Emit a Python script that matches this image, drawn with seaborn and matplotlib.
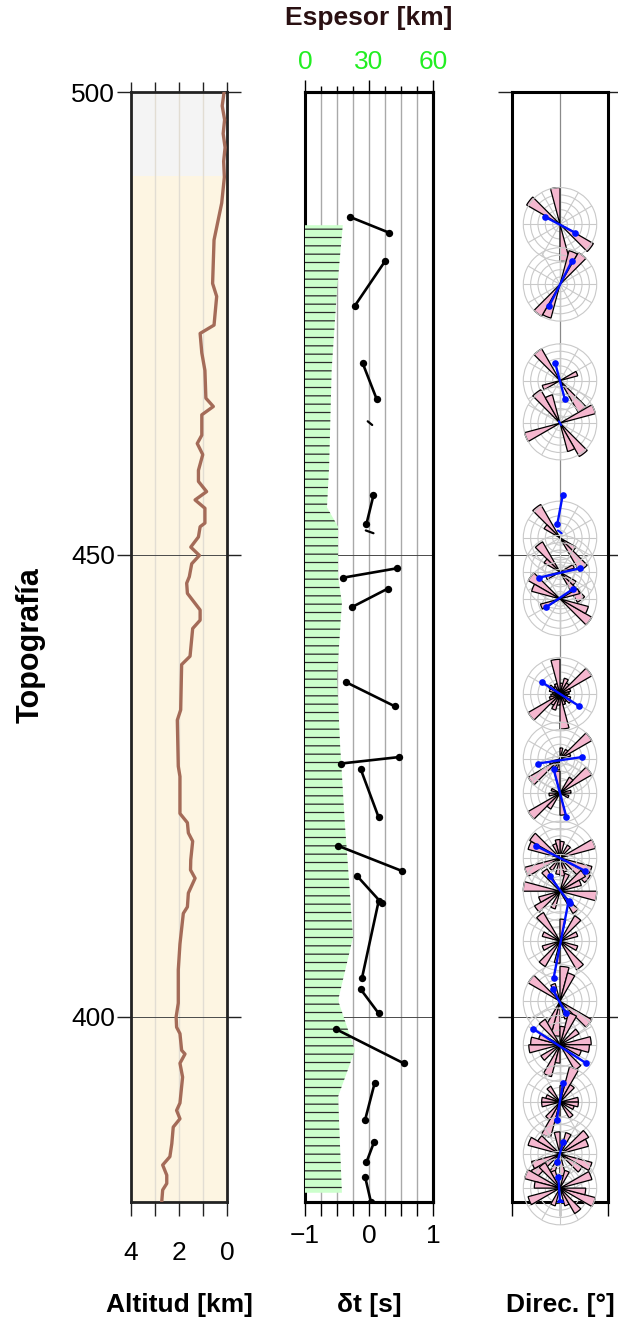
import matplotlib
matplotlib.use("Agg")
import numpy as np
import pandas as pd
import matplotlib.pyplot as plt
from matplotlib.ticker import MultipleLocator
import seaborn as sns

sns.set_theme(style="white")
plt.rcParams["font.family"] = ["Liberation Sans", "DejaVu Sans"]
plt.rcParams["hatch.linewidth"] = 0.9
plt.rcParams["hatch.color"] = "#2a2a2a"

# ---------------- data ----------------
Y_RANGE = (380, 500)
COAST_Y = 490.9

# topography along the profile (km)
TOPO_Y = [500.0, 498.5, 497.0, 495.5, 494.0, 492.5, 490.8, 488.0, 484.0, 479.3, 477.9, 474.8,
          473.9, 471.8, 469.9, 466.9, 466.0, 465.1, 462.9, 462.0, 460.8, 459.1, 457.9, 456.8,
          455.9, 455.0, 453.4, 453.0, 451.9, 450.8, 449.9, 449.0, 447.6, 446.9, 445.8, 444.0,
          442.9, 442.0, 439.0, 438.1, 433.2, 432.1, 427.1, 426.0, 422.0, 421.0, 419.9, 419.0,
          417.0, 415.9, 415.0, 413.4, 411.9, 411.2, 407.9, 405.1, 401.5, 400.0, 398.9, 398.2,
          396.4, 396.0, 395.0, 393.5, 390.7, 389.9, 389.0, 388.1, 386.3, 384.9, 384.0, 382.9,
          382.0, 381.3, 380.0]
TOPO_ALT = [0.12, 0.20, 0.10, 0.16, 0.08, 0.14, 0.11, 0.22, 0.54, 0.60, 0.43, 0.54,
            1.12, 1.05, 0.92, 0.88, 0.57, 1.05, 1.05, 1.24, 1.01, 1.19, 1.19, 0.85,
            1.33, 0.92, 0.92, 1.12, 1.19, 1.51, 1.15, 1.47, 1.57, 1.68, 1.65, 1.12,
            1.12, 1.43, 1.54, 1.89, 1.93, 2.07, 2.03, 1.96, 1.96, 1.65, 1.61, 1.43,
            1.51, 1.52, 1.33, 1.61, 1.65, 1.82, 1.96, 2.03, 2.03, 2.12, 2.10, 1.96,
            1.89, 1.75, 1.96, 1.85, 1.96, 2.10, 1.96, 2.24, 2.30, 2.38, 2.68, 2.51,
            2.51, 2.68, 2.72]

# layer thickness (km)
THICK_Y = [485.6, 478.6, 470.0, 459.5, 455.1, 453.0, 447.6, 444.8, 436.8, 429.6, 420.5,
           417.7, 408.6, 401.8, 396.4, 391.4, 381.0]
THICK_KM = [17.7, 15.0, 12.5, 11.3, 10.3, 15.5, 15.5, 17.3, 15.0, 16.4, 18.8,
            19.7, 22.5, 15.5, 23.4, 15.5, 17.3]

# splitting pairs: position, delay time and direction of both ends
SEG_Y1 = [486.5, 481.7, 470.7, 456.4, 448.5, 446.3, 436.2, 428.1, 426.8, 418.5, 415.2,
          412.5, 403.0, 398.7, 392.9, 386.5, 382.7]
SEG_Y2 = [484.8, 476.9, 466.8, 453.3, 447.5, 444.3, 433.6, 427.4, 421.6, 415.8, 412.3,
          404.2, 400.4, 395.0, 388.9, 384.3, 380.0]
SEG_DT1 = [-0.30, 0.25, -0.10, 0.07, 0.43, 0.29, -0.36, 0.47, -0.13, -0.48, -0.18,
           0.15, -0.13, -0.52, 0.09, 0.08, -0.06]
SEG_DT2 = [0.31, -0.22, 0.12, -0.04, -0.40, -0.27, 0.40, -0.44, 0.15, 0.51, 0.20,
           -0.11, 0.15, 0.54, -0.06, -0.04, 0.03]
SEG_DIR1 = [-28, 22, -9, 5, 37, 25, -34, 41, -12, -45, -19, 16, -14, -50, 6, 6, -3]
SEG_DIR2 = [28, -20, 9, -5, -39, -26, 36, -42, 12, 47, 18, -12, 11, 49, -6, -5, 0]

# near-null pairs
NULL_Y1 = [464.4, 452.6]
NULL_Y2 = [464.0, 452.3]
NULL_DT1 = [-0.02, -0.05]
NULL_DT2 = [0.05, 0.07]
NULL_DIR1 = [-2, -4]
NULL_DIR2 = [2, 3]

# rose diagrams: centre position, bin azimuths (deg, 15 deg bins) and relative lengths
ROSE_Y = [485.7, 479.2, 468.8, 464.2, 451.8, 448.1, 445.2, 434.9, 427.9, 424.2, 417.2,
          413.6, 408.2, 401.7, 397.0, 390.8, 385.2, 381.5]
ROSE_DIRS = [
    [127.5, 172.5],
    [22.5, 37.5],
    [142.5, 67.5],
    [142.5, 67.5, 157.5],
    [142.5, 127.5],
    [142.5, 127.5, 67.5],
    [127.5, 112.5, 67.5],
    [7.5, 22.5, 37.5, 52.5, 67.5, 82.5, 97.5, 112.5, 127.5, 142.5, 157.5, 172.5],
    [52.5, 7.5, 37.5, 67.5],
    [52.5, 37.5, 172.5, 82.5, 112.5],
    [67.5, 112.5, 127.5, 7.5, 172.5, 37.5, 157.5],
    [97.5, 52.5, 142.5, 22.5, 67.5],
    [37.5, 142.5, 112.5, 7.5, 67.5],
    [127.5, 7.5, 22.5, 157.5],
    [82.5, 97.5, 112.5, 142.5, 22.5, 7.5, 52.5],
    [22.5, 82.5, 37.5, 7.5, 142.5, 112.5, 97.5],
    [52.5, 112.5, 127.5, 22.5, 172.5, 67.5],
    [67.5, 112.5, 97.5, 22.5, 157.5, 142.5],
]
ROSE_LENS = [
    [1.05, 1.0],
    [0.95, 1.0],
    [1.0, 0.5],
    [1.05, 1.0, 0.8],
    [1.05, 0.5],
    [0.95, 0.5, 0.4],
    [1.0, 0.8, 0.55],
    [0.3, 0.45, 0.35, 1.0, 0.3, 0.25, 0.2, 0.3, 0.35, 0.25, 0.3, 0.95],
    [1.0, 0.3, 0.3, 0.3],
    [1.0, 0.5, 0.6, 0.3, 0.25],
    [1.0, 0.9, 0.95, 0.45, 0.5, 0.4, 0.4],
    [1.0, 0.8, 0.7, 0.5, 0.6],
    [0.8, 0.9, 0.5, 0.6, 0.5],
    [1.0, 0.95, 0.8, 0.5],
    [0.85, 0.8, 0.6, 0.8, 0.9, 0.5, 0.6],
    [1.0, 0.5, 0.55, 0.45, 0.5, 0.4, 0.5],
    [0.9, 0.9, 0.7, 0.6, 0.6, 0.8],
    [0.9, 1.0, 0.7, 0.5, 0.5, 0.8],
]
ROSE_BIN = 15

# ---------------- styling ----------------
FRAME = "#222222"
GRID_DARK = "#4a4a4a"
LABEL_KW = dict(fontsize=19, fontweight="bold", color="black")
TICK_SIZE = 19

W_PX, H_PX = 618, 1323
fig = plt.figure(figsize=(W_PX / 100, H_PX / 100), dpi=100)


def box(x0, x1, y0, y1):
    return [x0 / W_PX, 1 - y1 / H_PX, (x1 - x0) / W_PX, (y1 - y0) / H_PX]


ax_topo = fig.add_axes(box(131, 227, 92, 1202))
ax_dt = fig.add_axes(box(305, 433, 92, 1202))
ax_dir = fig.add_axes(box(512, 608, 92, 1202))
LABEL_Y = (1202 - 1305) / 1110


def frame(ax, lw=2.0, color=FRAME, sides=("left", "right", "top", "bottom")):
    for s, sp in ax.spines.items():
        sp.set_visible(s in sides)
        sp.set_linewidth(lw)
        sp.set_color(color)


def y_ticks(ax, labels):
    ax.set_yticks([400, 450, 500])
    ax.tick_params(axis="y", which="major", left=True, right=True, direction="out",
                   length=10, width=1, color=FRAME, labelsize=TICK_SIZE, pad=1.5,
                   labelleft=labels, labelcolor="black")


def bottom_label(ax, text):
    ax.set_xlabel(text, **LABEL_KW)
    ax.xaxis.set_label_coords(0.5, LABEL_Y)
    ax.xaxis.label.set_va("center")
    ax.set_ylabel("")


# ---- topography panel ----
ax_topo.set_xlim(4, 0)
ax_topo.set_ylim(*Y_RANGE)
ax_topo.axhspan(COAST_Y, 500, color="#f4f4f4", lw=0, zorder=0)
ax_topo.axhspan(380, COAST_Y, color="#fdf5e2", lw=0, zorder=0)
for gx in (1, 2, 3):
    ax_topo.axvline(gx, color="#e2ddd3", lw=1, zorder=0.5)
for gy in (450, 400):
    ax_topo.axhline(gy, color=GRID_DARK, lw=0.7, zorder=0.6)
sns.lineplot(x=TOPO_ALT, y=TOPO_Y, sort=False, estimator=None, color="#a46b58",
             lw=2.4, ax=ax_topo, zorder=3)
ax_topo.set_xticks([4, 2, 0])
ax_topo.set_xticklabels(["4", "2", "0"])
ax_topo.xaxis.set_minor_locator(MultipleLocator(1))
ax_topo.tick_params(axis="x", which="both", bottom=True, top=False, direction="out",
                    length=10, width=1, color=FRAME, labelsize=TICK_SIZE, pad=18,
                    labelcolor="black")
top_ax = ax_topo.secondary_xaxis("top")
top_ax.set_xticks([4, 3, 2, 1, 0])
top_ax.tick_params(axis="x", direction="out", length=7, width=1, color=FRAME,
                   labeltop=False)
top_ax.spines["top"].set_visible(False)
y_ticks(ax_topo, True)
frame(ax_topo)
bottom_label(ax_topo, "Altitud [km]")
ax_topo.set_ylabel("Topografía", fontsize=22, fontweight="bold", color="black")
ax_topo.yaxis.set_label_coords(-1.05, 0.502)
ax_topo.yaxis.label.set_va("center")

# ---- delay time panel with layer thickness behind ----
ax_km = ax_dt.twiny()
ax_km.set_zorder(ax_dt.get_zorder() - 1)
ax_km.patch.set_visible(True)
ax_km.patch.set_facecolor("white")
ax_dt.patch.set_visible(False)
ax_dt.set_xlim(-1, 1)
ax_dt.set_ylim(*Y_RANGE)
ax_km.set_xlim(0, 60)
ax_km.set_xticks([0, 30, 60])
ax_km.xaxis.set_minor_locator(MultipleLocator(7.5))
ax_km.set_axisbelow(True)
ax_km.grid(which="both", axis="x", color="#a9a9a9", lw=1)
for gy in (450, 400):
    ax_km.axhline(gy, color=GRID_DARK, lw=0.7, zorder=1)
ax_km.fill_betweenx(THICK_Y, 0, THICK_KM, facecolor="#ccffcc", edgecolor="#2a2a2a",
                    linewidth=0, hatch="--", zorder=3)
ax_km.tick_params(axis="x", which="major", top=True, bottom=False, direction="out",
                  length=9, width=1, color="black", labelsize=19, labelcolor="#22ee22",
                  pad=4)
ax_km.tick_params(axis="x", which="minor", top=True, bottom=False, direction="out",
                  length=4.5, width=1, color="black")
frame(ax_km, lw=2.2, color="black")
ax_km.set_xlabel("Espesor [km]", fontsize=19, fontweight="bold", color="#2a1012")
ax_km.xaxis.set_label_coords(0.5, (1202 - 18) / 1110)
ax_km.xaxis.label.set_va("center")

pairs = pd.DataFrame({
    "pair": list(range(len(SEG_Y1))) * 2,
    "y": SEG_Y1 + SEG_Y2,
    "dt": SEG_DT1 + SEG_DT2,
    "dir": SEG_DIR1 + SEG_DIR2,
})
nulls = pd.DataFrame({
    "pair": list(range(len(NULL_Y1))) * 2,
    "y": NULL_Y1 + NULL_Y2,
    "dt": NULL_DT1 + NULL_DT2,
    "dir": NULL_DIR1 + NULL_DIR2,
})
sns.lineplot(data=pairs, x="dt", y="y", units="pair", estimator=None, sort=False,
             color="black", lw=1.9, marker="o", markersize=5.3, markeredgewidth=0,
             legend=False, ax=ax_dt, zorder=5)
sns.lineplot(data=nulls, x="dt", y="y", units="pair", estimator=None, sort=False,
             color="black", lw=1.6, legend=False, ax=ax_dt, zorder=5)
ax_dt.set_xticks([-1, 0, 1])
ax_dt.xaxis.set_minor_locator(MultipleLocator(0.25))
ax_dt.tick_params(axis="x", which="both", bottom=True, top=False, direction="out",
                  length=10, width=1, color="black", labelsize=TICK_SIZE, pad=6,
                  labelcolor="black")
ax_dt.tick_params(axis="y", left=False, right=False, labelleft=False)
frame(ax_dt, lw=2.2, color="black", sides=("right", "top", "bottom"))
bottom_label(ax_dt, "δt [s]")

# ---- direction panel ----
ax_dir.set_xlim(-90, 90)
ax_dir.set_ylim(*Y_RANGE)
ax_dir.axvline(0, color="#8a8a8a", lw=0.9, zorder=1)
for gy in (450, 400):
    ax_dir.axhline(gy, color=GRID_DARK, lw=0.7, zorder=1)
ax_dir.set_xticks([-90, 0, 90])
ax_dir.set_xticklabels([])
ax_dir.tick_params(axis="x", bottom=True, top=False, direction="out", length=10,
                   width=1, color="black")
y_ticks(ax_dir, False)
frame(ax_dir, lw=2.2, color="black")

half_w = 36.7 / 96 * 180
half_h = 36.7 * (Y_RANGE[1] - Y_RANGE[0]) / 1110
for yc, dirs, lens in zip(ROSE_Y, ROSE_DIRS, ROSE_LENS):
    rax = ax_dir.inset_axes([-half_w, yc - half_h, 2 * half_w, 2 * half_h],
                            transform=ax_dir.transData, projection="polar", zorder=3)
    rax.set_theta_zero_location("N")
    rax.set_theta_direction(-1)
    theta = np.deg2rad(np.concatenate([dirs, np.asarray(dirs) + 180]))
    bars = rax.bar(theta, list(lens) * 2, width=np.deg2rad(ROSE_BIN), bottom=0,
                   color="#f5b7cf", edgecolor="black", linewidth=0.9)
    for b in bars:
        b.set_clip_on(False)
    rax.set_ylim(0, 1)
    rax.set_yticks([0.2, 0.4, 0.6, 0.8])
    rax.set_yticklabels([])
    rax.set_xticks(np.deg2rad(np.arange(0, 360, 30)))
    rax.set_xticklabels([])
    rax.set_axisbelow(True)
    rax.grid(True, color="#c9c9c9", lw=0.8)
    rax.spines["polar"].set_color("#c9c9c9")
    rax.spines["polar"].set_linewidth(0.8)
    rax.set_facecolor("none")

sns.lineplot(data=pairs, x="dir", y="y", units="pair", estimator=None, sort=False,
             color="#0010ff", lw=1.7, marker="o", markersize=4.8, markeredgewidth=0,
             legend=False, ax=ax_dir, zorder=10)
sns.lineplot(data=nulls, x="dir", y="y", units="pair", estimator=None, sort=False,
             color="#0010ff", lw=1.5, legend=False, ax=ax_dir, zorder=10)
bottom_label(ax_dir, "Direc. [°]")

fig.savefig("out.png", dpi=100)
